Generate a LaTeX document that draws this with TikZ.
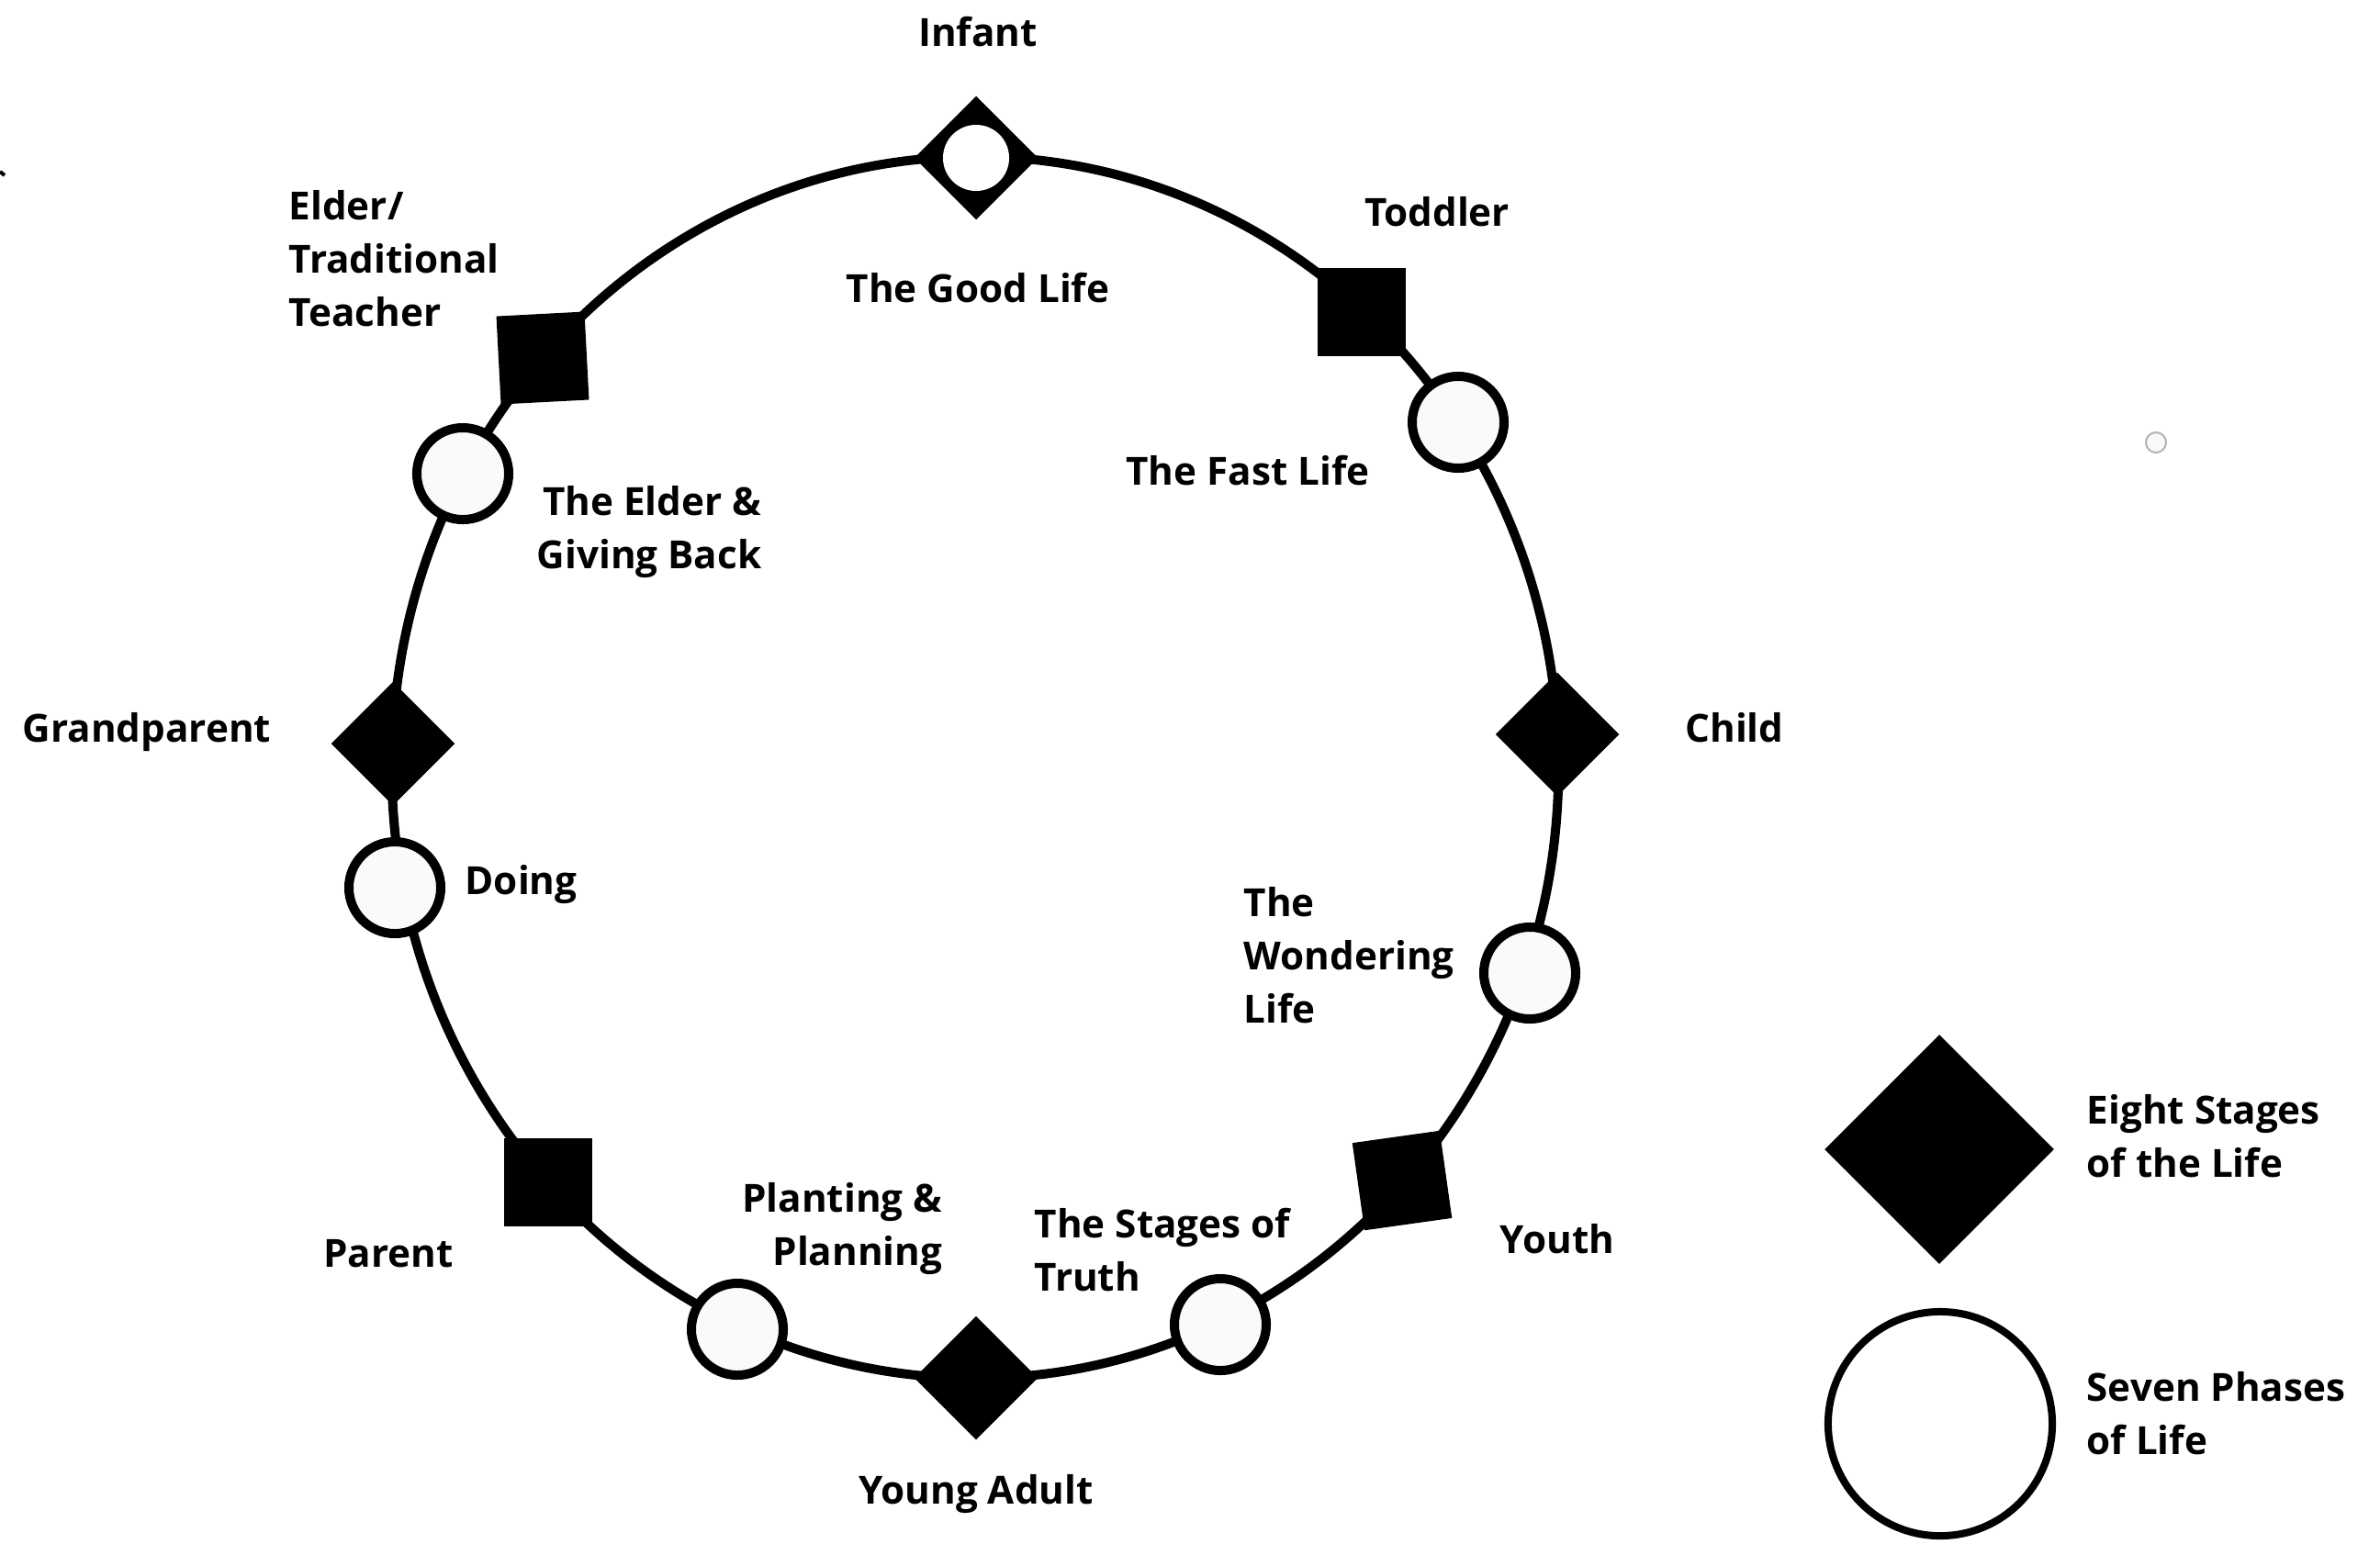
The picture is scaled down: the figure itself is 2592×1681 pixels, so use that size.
\documentclass[tikz,border=0pt]{standalone}
\usepackage{fontspec}
\setmainfont{Open Sans}
\usetikzlibrary{shapes.geometric}
\tikzset{
  lbl/.style={font=\fontsize{12}{16.5}\selectfont\bfseries, inner sep=0pt},
  stage/.style={diamond, fill=black, inner sep=0pt, minimum width=1.35cm, minimum height=1.35cm},
  sq/.style={rectangle, fill=black, inner sep=0pt, minimum size=0.96cm},
  phase/.style={circle, draw=black, line width=0.1cm, fill=gray!4, inner sep=0pt, minimum size=1.0cm},
  ring/.style={line width=0.1cm},
}
\begin{document}
\begin{tikzpicture}[x=0.01cm, y=-0.01cm]
\useasboundingbox (0,0) rectangle (2592,1681);
\coordinate (c) at (1062,836);
\draw[ring] (c) ellipse [x radius=6.35cm, y radius=6.65cm];

% ring nodes
\node[stage] (inf) at (1063,172) {};
\node[circle, fill=white, minimum size=0.72cm, inner sep=0pt] (infc) at (inf) {};
\node[sq] (tod) at (1483,340) {};
\node[phase] (fast) at (1588,460) {};
\node[stage] (chi) at (1696,800) {};
\node[phase] (won) at (1666,1060) {};
\node[sq, rotate=8] (you) at (1527,1286) {};
\node[phase] (tru) at (1329,1443) {};
\node[stage] (ya) at (1063,1501) {};
\node[phase] (pla) at (803,1448) {};
\node[sq] (par) at (597,1288) {};
\node[phase] (doi) at (430,967) {};
\node[stage] (gra) at (428,810) {};
\node[phase] (giv) at (504,516) {};
\node[sq, rotate=3] (eld) at (591,390) {};

% labels
\node[lbl, anchor=base] (tInf) at (1065,50) {Infant};
\node[lbl, anchor=base] (tGood) at (1065,329) {The Good Life};
\node[lbl, anchor=base] (tTod) at (1565,246) {Toddler};
\node[lbl, anchor=base] (tFast) at (1359,528) {The Fast Life};
\node[lbl, anchor=base] (tChi) at (1889,808) {Child};
\node[lbl, anchor=north west, align=left] (tWon) at (1354,966) {The\\Wondering\\Life};
\node[lbl, anchor=base] (tYou) at (1696,1365) {Youth};
\node[lbl, anchor=north west, align=left] (tTru) at (1126,1315) {The Stages of\\Truth};
\node[lbl, anchor=base] (tYa) at (1063,1638) {Young Adult};
\node[lbl, anchor=north east, align=right] (tPla) at (1027,1288) {Planting \&\\Planning};
\node[lbl, anchor=base] (tPar) at (423,1380) {Parent};
\node[lbl, anchor=base west] (tDoi) at (506,974) {Doing};
\node[lbl, anchor=base] (tGra) at (160,808) {Grandparent};
\node[lbl, anchor=north east, align=right] (tGiv) at (830,529) {The Elder \&\\Giving Back};
\node[lbl, anchor=north west, align=left] (tEld) at (314,207) {Elder/\\Traditional\\Teacher};

% legend
\node[stage, minimum width=2.5cm, minimum height=2.5cm] (lgS) at (2112,1252) {};
\node[circle, draw=black, line width=0.08cm, fill=white, minimum size=2.44cm, inner sep=0pt] (lgP) at (2113,1551) {};
\node[lbl, anchor=north west, align=left] (tlgS) at (2272,1192) {Eight Stages\\of the Life};
\node[lbl, anchor=north west, align=left] (tlgP) at (2272,1494) {Seven Phases\\of Life};

% stray marks
\node[circle, draw=gray!60, line width=0.02cm, fill=gray!5, minimum size=0.22cm, inner sep=0pt] (dot) at (2348,482) {};
\coordinate (m1) at (0,187);
\coordinate (m2) at (5,191);
\draw[line width=0.04cm] (m1) -- (m2);
\end{tikzpicture}
\end{document}
